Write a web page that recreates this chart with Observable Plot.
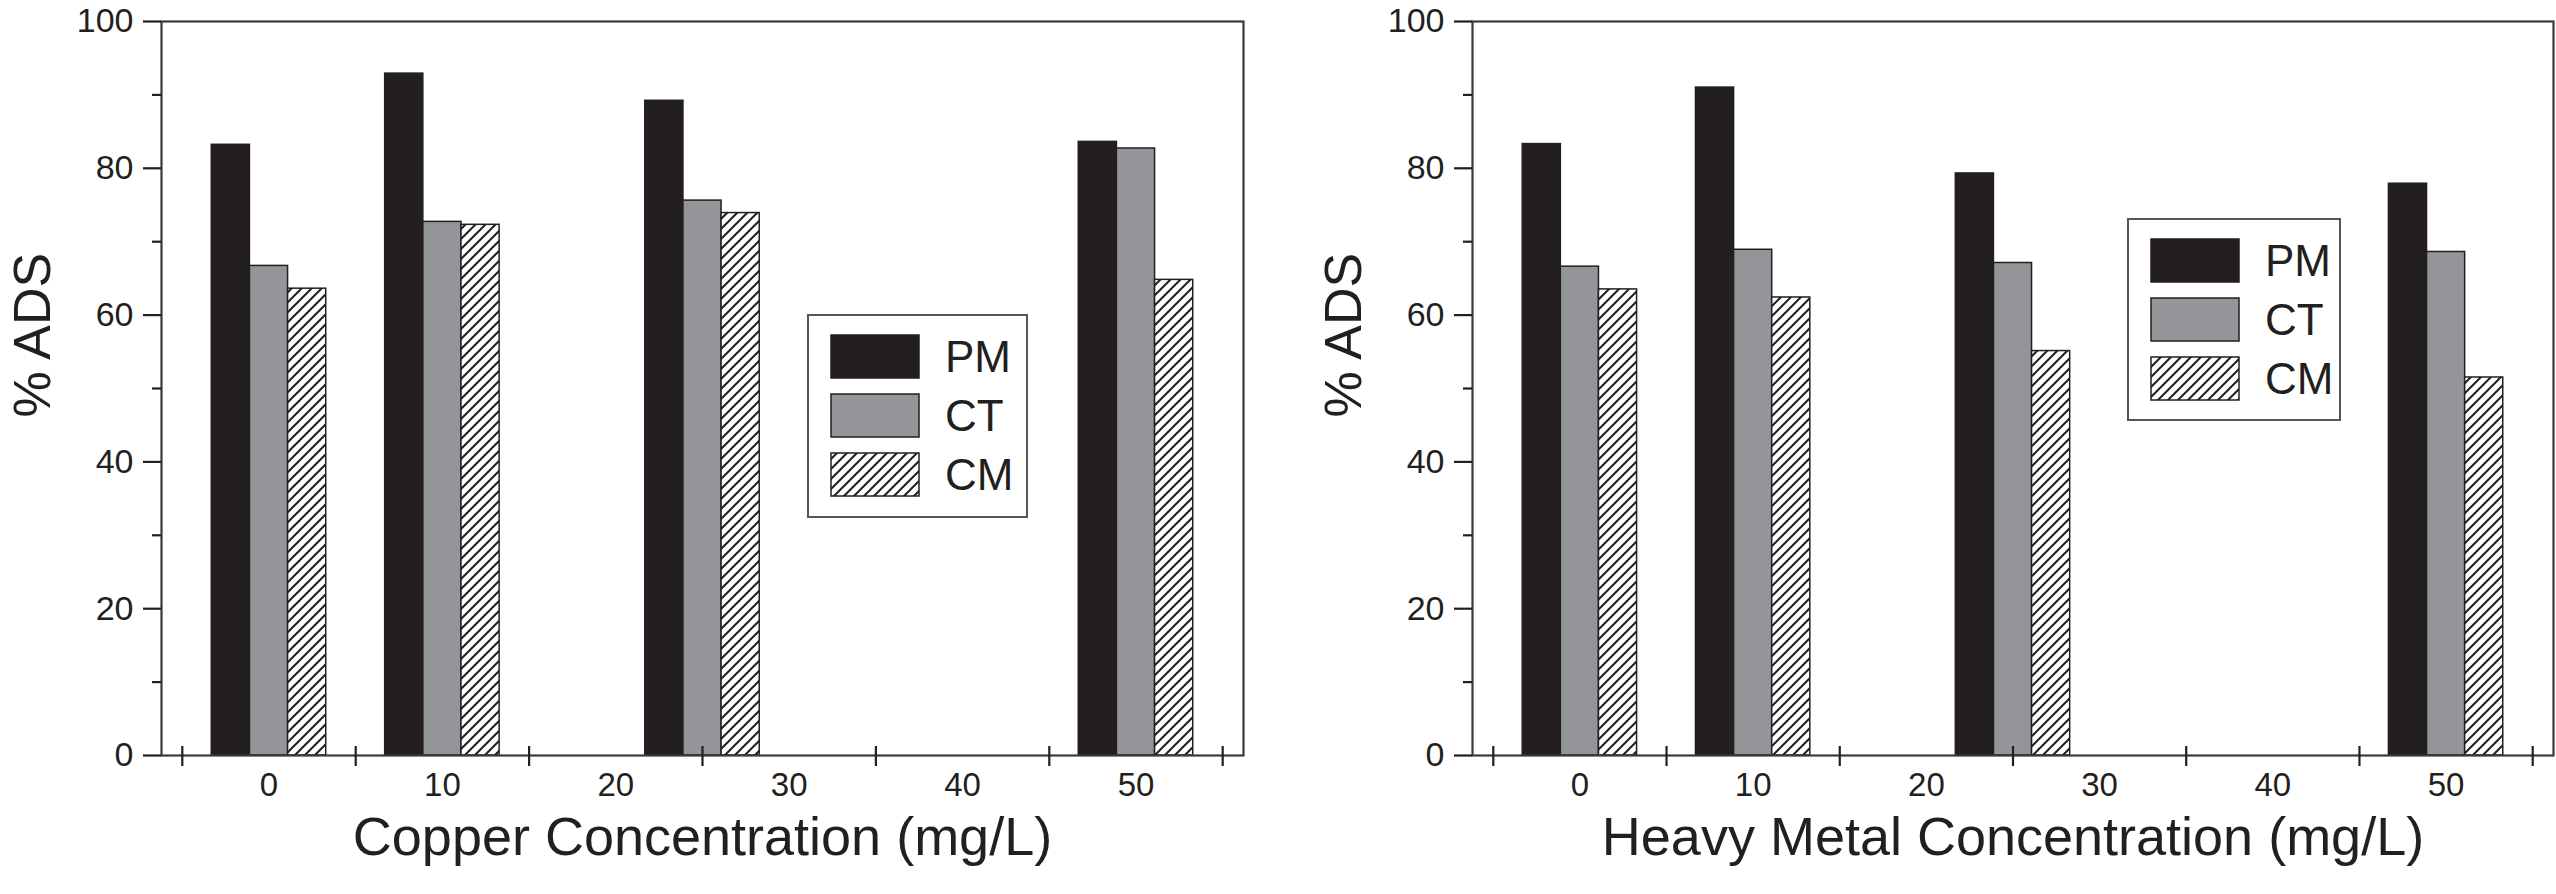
<!DOCTYPE html>
<html>
<head>
<meta charset="utf-8">
<script src="https://cdn.jsdelivr.net/npm/d3@7"></script>
<script src="https://cdn.jsdelivr.net/npm/@observablehq/plot@0.6"></script>
<style>
  html, body { margin: 0; padding: 0; background: #fff; }
  #row { display: flex; flex-direction: row; width: 2556px; height: 894px; }
  #row > div { width: 1278px; height: 894px; }
</style>
</head>
<body>
<div id="row"><div id="left"></div><div id="right"></div></div>
<script>
// ---- data ----
const concentrations = [0, 10, 25, 50];
const seriesNames = ["PM", "CT", "CM"];
const xTickLabels = [0, 10, 20, 30, 40, 50];
const xTickMarks = [-5, 5, 15, 25, 35, 45, 55];
const yMajorTicks = [0, 20, 40, 60, 80, 100];
const yMinorTicks = [10, 30, 50, 70, 90];

// Copper concentration chart
const copperPM = [83.2, 92.9, 89.2, 83.6];
const copperCT = [66.7, 72.7, 75.6, 82.7];
const copperCM = [63.6, 72.3, 73.9, 64.8];

// Heavy metal concentration chart
const heavyPM = [83.3, 91.0, 79.3, 77.9];
const heavyCT = [66.6, 68.9, 67.1, 68.6];
const heavyCM = [63.5, 62.4, 55.1, 51.5];

const barWidth = 2.2; // in concentration units
const ink = "#231f20";
const sans = "'Liberation Sans', Arial, sans-serif";

function table(pm, ct, cm) {
  const vals = [pm, ct, cm];
  const rows = [];
  seriesNames.forEach((s, i) => {
    concentrations.forEach((c, j) => {
      rows.push({series: s, idx: i, conc: c, value: vals[i][j]});
    });
  });
  return rows;
}

function makeChart(el, rows, xLabel, opts) {
  const patId = "hatch-" + el.id;
  const fills = {PM: ink, CT: "#939598", CM: `url(#${patId})`};
  const barMarks = seriesNames.map(s =>
    Plot.rect(rows.filter(d => d.series === s), {
      x1: d => d.conc + (d.idx - 1.5) * barWidth,
      x2: d => d.conc + (d.idx - 0.5) * barWidth,
      y1: 0,
      y2: "value",
      fill: fills[s],
      stroke: ink,
      strokeWidth: 1.5
    })
  );
  const svg = Plot.plot({
    width: 1278,
    height: 894,
    marginLeft: opts.marginLeft,
    marginRight: opts.marginRight,
    marginTop: 21,
    marginBottom: 139,
    style: {
      fontFamily: "'Liberation Sans Narrow', 'Liberation Sans', Arial, sans-serif",
      fontSize: "34px",
      color: ink,
      background: "white"
    },
    x: {domain: [-6.2, 56.2]},
    y: {domain: [0, 100]},
    marks: [
      ...barMarks,
      Plot.frame({stroke: "#3a3a3a", strokeWidth: 2.2}),
      Plot.axisY({ticks: yMajorTicks, tickSize: 18, tickPadding: 10, strokeWidth: 2.2, label: null, fontSize: 34}),
      Plot.axisY({ticks: yMinorTicks, tickSize: 9, strokeWidth: 2.2, fill: "none", label: null}),
      Plot.axisX({ticks: xTickLabels, tickSize: 0, tickPadding: 17, label: null, fontSize: 33}),
      Plot.axisX({ticks: xTickMarks, tickSize: 20, dy: -9, strokeWidth: 2.2, fill: "none", label: null}),
      Plot.text([xLabel], {frameAnchor: "bottom", dy: 99, fontSize: 54, fontFamily: sans, fill: ink}),
      Plot.text(["% ADS"], {frameAnchor: "left", dx: -128, dy: 29, rotate: -90, fontSize: 52, fontFamily: sans, fill: ink})
    ]
  });

  // hatch pattern
  const s = d3.select(svg);
  const defs = s.insert("defs", ":first-child");
  const pat = defs.append("pattern")
    .attr("id", patId)
    .attr("patternUnits", "userSpaceOnUse")
    .attr("width", 10).attr("height", 10);
  pat.append("rect").attr("width", 10).attr("height", 10).attr("fill", "white");
  pat.append("path")
    .attr("d", "M-2,2 L2,-2 M0,10 L10,0 M8,12 L12,8")
    .attr("stroke", ink).attr("stroke-width", 2);

  // legend
  const L = opts.legend;
  const g = s.append("g");
  g.append("rect").attr("x", L.x).attr("y", L.y).attr("width", L.w).attr("height", L.h)
    .attr("fill", "white").attr("stroke", "#555").attr("stroke-width", 2);
  seriesNames.forEach((name, i) => {
    const sy = L.y + 20 + i * 59;
    g.append("rect").attr("x", L.x + 23).attr("y", sy).attr("width", 88).attr("height", 43)
      .attr("fill", fills[name]).attr("stroke", ink).attr("stroke-width", 1.5);
    g.append("text").attr("x", L.x + 137).attr("y", sy + 21.5).attr("dy", "0.36em")
      .attr("text-anchor", "start")
      .attr("font-size", 44).attr("font-family", sans)
      .attr("fill", ink).text(name);
  });

  el.appendChild(svg);
}

makeChart(document.getElementById("left"), table(copperPM, copperCT, copperCM),
  "Copper Concentration (mg/L)",
  {marginLeft: 161, marginRight: 35, legend: {x: 808, y: 315, w: 219, h: 202}});

makeChart(document.getElementById("right"), table(heavyPM, heavyCT, heavyCM),
  "Heavy Metal Concentration (mg/L)",
  {marginLeft: 194, marginRight: 3, legend: {x: 850, y: 219, w: 212, h: 201}});
</script>
</body>
</html>
